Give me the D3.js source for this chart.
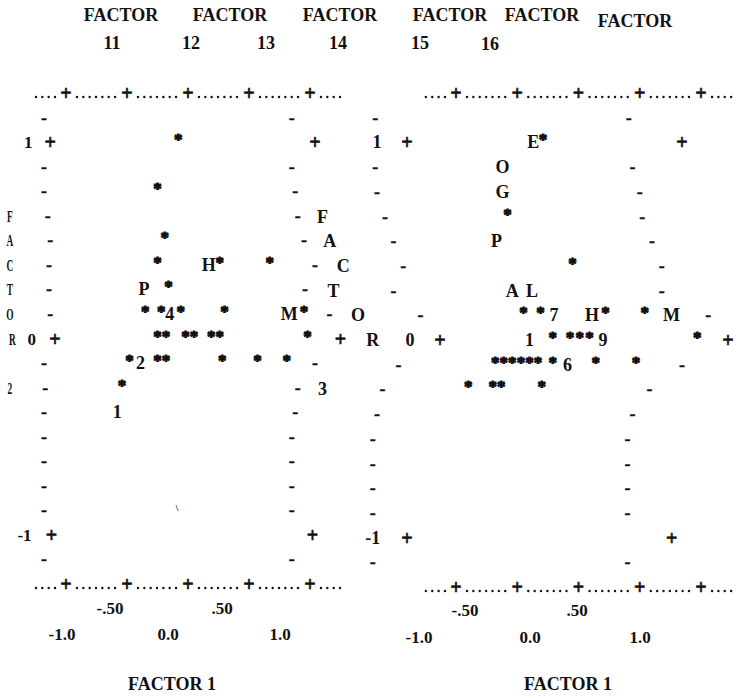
<!DOCTYPE html>
<html><head><meta charset="utf-8">
<script src="https://cdn.jsdelivr.net/npm/d3@7"></script>
<style>
body{margin:0;background:#fff}
svg text{font-family:"Liberation Serif","Times New Roman",serif;font-weight:bold;fill:#111}
</style>
</head><body>
<svg id="c" width="738" height="698"></svg>
<script>
// ---------- DATA ----------
const xTicks = [-1, -0.5, 0, 0.5, 1];
const xTickLabels = ["-1.0", "-.50", "0.0", ".50", "1.0"];
const rowValues = d3.range(9, -10, -1).map(k => k * 0.125); // 1.125 .. -1.125
const yTickValues = [1, 0, -1];
const yTickLabels = ["1", "0", "-1"];
const topWords = ["FACTOR", "FACTOR", "FACTOR", "FACTOR", "FACTOR", "FACTOR"];
const topNumbers = ["11", "12", "13", "14", "15", "16"];
const xTitle = "FACTOR 1";
const yTitleA = "FACTOR 2";
const yTitleB = "FACTOR 3";

// Panel A: Factor 1 (x) vs Factor 2 (y)
const starsA = [
  [-0.08, 1], [-0.25, 0.75], [-0.19, 0.5],
  [-0.25, 0.375], [0.26, 0.375], [0.67, 0.375],
  [-0.16, 0.25],
  [-0.35, 0.125], [-0.22, 0.125], [-0.06, 0.125], [0.30, 0.125], [0.95, 0.125],
  [-0.25, 0], [-0.18, 0], [-0.02, 0], [0.05, 0], [0.19, 0], [0.26, 0], [0.98, 0],
  [-0.48, -0.125], [-0.25, -0.125], [-0.18, -0.125], [0.28, -0.125], [0.57, -0.125], [0.81, -0.125],
  [-0.54, -0.25]
];
const labelsA = [
  [0.17, 0.375, "H"], [-0.36, 0.25, "P"], [-0.15, 0.125, "4"], [0.83, 0.125, "M"],
  [-0.39, -0.125, "2"], [-0.58, -0.375, "1"]
];
const strayA = [[-0.09, -0.85]];
const leftEdgeA = [-1.18, -1.13, -1.18, -1.18, -1.15, -1.13, -1.14, -1.14, -1.13, -1.09, -1.18, -1.17, -1.18, -1.18, -1.18, -1.18, -1.18, -1.12, -1.18];
const rightEdgeA = [0.85, 1.04, 0.85, 0.88, 0.90, 0.95, 1.04, 0.96, 1.16, 1.25, 1.04, 0.90, 0.88, 0.85, 0.85, 0.85, 0.85, 1.02, 0.85];
const yLabelXA = [-1.31, -1.28, -1.34];
const yTitleXA = [-1.46, -1.46, -1.46, -1.46, -1.46, -1.44, -1.46, -1.46];

// Panel B: Factor 1 (x) vs Factor 3 (y)
const starsB = [
  [-0.29, 1], [-0.58, 0.625], [-0.05, 0.375],
  [-0.45, 0.125], [-0.31, 0.125], [0.22, 0.125], [0.54, 0.125],
  [-0.21, 0], [-0.07, 0], [0.01, 0], [0.09, 0], [0.97, 0],
  [-0.68, -0.125], [-0.61, -0.125], [-0.54, -0.125], [-0.47, -0.125], [-0.40, -0.125], [-0.33, -0.125],
  [-0.21, -0.125], [0.14, -0.125], [0.47, -0.125],
  [-0.90, -0.25], [-0.70, -0.25], [-0.63, -0.25], [-0.30, -0.25]
];
const labelsB = [
  [-0.37, 1, "E"], [-0.62, 0.875, "O"], [-0.62, 0.75, "G"], [-0.67, 0.5, "P"],
  [-0.54, 0.25, "A"], [-0.38, 0.25, "L"], [-0.20, 0.125, "7"], [0.11, 0.125, "H"],
  [0.76, 0.125, "M"], [-0.40, 0, "1"], [0.20, 0, "9"], [-0.09, -0.125, "6"]
];
const leftEdgeB = [-1.66, -1.40, -1.66, -1.645, -1.58, -1.51, -1.43, -1.51, -1.29, -1.13, -1.47, -1.60, -1.645, -1.68, -1.68, -1.68, -1.68, -1.40, -1.68];
const rightEdgeB = [0.41, 0.845, 0.44, 0.50, 0.52, 0.60, 0.68, 0.68, 1.06, 1.22, 0.845, 0.58, 0.44, 0.40, 0.40, 0.40, 0.40, 0.76, 0.40];
const yLabelXB = [-1.645, -1.375, -1.68];
const yTitleXB = [-2.09, -2.03, -1.92, -2.00, -1.80, -1.68, -2.09, -2.09];

// ---------- LAYOUT ----------
const svg = d3.select("#c");
svg.append("rect").attr("width", 738).attr("height", 698).attr("fill", "#fff");

const topX = [121, 230, 340, 450, 542, 635], topY = [21, 21, 21, 21, 21, 27];
const numX = [112, 191, 266, 338, 420, 490], numY = [49, 49, 49, 49, 49, 50];
svg.selectAll("text.tw").data(topWords).join("text").attr("class", "tw")
  .attr("x", (d, i) => topX[i]).attr("y", (d, i) => topY[i])
  .attr("text-anchor", "middle").attr("font-size", 18).text(d => d);
svg.selectAll("text.tn").data(topNumbers).join("text").attr("class", "tn")
  .attr("x", (d, i) => numX[i]).attr("y", (d, i) => numY[i])
  .attr("text-anchor", "middle").attr("font-size", 18).text(d => d);

const panels = [
  {
    x: d3.scaleLinear().domain([-1, 1]).range([66, 310]),
    y: d3.scaleLinear().domain([-1.25, 1.25]).range([584, 93]),
    lab: d3.scaleLinear().domain(xTicks).range([62, 110, 168, 222, 280]),
    labY: [614, 640], titleX: 172,
    stars: starsA, labels: labelsA, stray: strayA,
    leftEdge: leftEdgeA, rightEdge: rightEdgeA, yLabelX: yLabelXA,
    yTitle: yTitleA, yTitleX: yTitleXA, thinTitle: true, boldY: false
  },
  {
    x: d3.scaleLinear().domain([-1, 1]).range([456, 701]),
    y: d3.scaleLinear().domain([-1.25, 1.25]).range([587, 93]),
    lab: d3.scaleLinear().domain(xTicks).range([419, 465, 530, 577, 640]),
    labY: [616, 643], titleX: 568,
    stars: starsB, labels: labelsB, stray: [],
    leftEdge: leftEdgeB, rightEdge: rightEdgeB, yLabelX: yLabelXB,
    yTitle: yTitleB, yTitleX: yTitleXB, thinTitle: false, boldY: true
  }
];

const BASE = 6; // baseline offset so glyphs centre on their row

panels.forEach(p => {
  const g = svg.append("g");
  const X = p.x, Y = p.y;

  // dotted horizontal axes with + at ticks
  [1.25, -1.25].forEach(v => {
    const ay = Y(v);
    const dots = [];
    xTicks.forEach((t, i) => {
      if (i < xTicks.length - 1) for (let k = 0; k < 7; k++) dots.push(t + 0.09 + k * 0.052);
    });
    for (let k = 0; k < 4; k++) { dots.push(-1 - 0.09 - k * 0.052); dots.push(1 + 0.09 + k * 0.052); }
    g.selectAll(null).data(dots).join("circle")
      .attr("cx", d => X(d)).attr("cy", ay + 4).attr("r", 1.2).attr("fill", "#111");
    g.selectAll(null).data(xTicks).join("text")
      .attr("x", d => X(d)).attr("y", ay + BASE + 1).attr("text-anchor", "middle")
      .attr("font-size", 20).attr("stroke", "#111").attr("stroke-width", 0.6).text("+");
  });

  // row frame marks (left and right edges)
  const isPlus = r => yTickValues.includes(r);
  [p.leftEdge, p.rightEdge].forEach(edge => {
    g.selectAll(null).data(rowValues).join("text")
      .attr("x", (r, i) => X(edge[i])).attr("y", r => Y(r) + BASE + (isPlus(r) ? 1 : 0))
      .attr("text-anchor", "middle").attr("font-size", r => isPlus(r) ? 20 : 18)
      .attr("stroke", "#111").attr("stroke-width", r => isPlus(r) ? 0.6 : 0.3)
      .text(r => isPlus(r) ? "+" : "-");
  });

  // y tick labels
  g.selectAll(null).data(yTickValues).join("text")
    .attr("x", (d, i) => X(p.yLabelX[i])).attr("y", d => Y(d) + BASE)
    .attr("text-anchor", "middle").attr("font-size", p.boldY ? 18 : 17)
    .attr("font-weight", p.boldY ? "bold" : "normal")
    .text((d, i) => yTickLabels[i]);

  // vertical axis title, one letter per row
  const chars = p.yTitle.split("");
  chars.forEach((c, i) => {
    if (c === " ") return;
    const cx = X(p.yTitleX[i]), cy = Y(0.625 - i * 0.125) + BASE;
    const t = g.append("text").attr("text-anchor", "middle").text(c);
    if (p.thinTitle) {
      t.attr("font-size", 17).attr("font-weight", "normal")
        .attr("transform", `translate(${cx},${cy}) scale(0.55,1)`);
    } else {
      t.attr("x", cx).attr("y", cy).attr("font-size", 18);
    }
  });

  // x tick labels (alternating rows)
  g.selectAll(null).data(xTicks).join("text")
    .attr("x", d => p.lab(d)).attr("y", (d, i) => p.labY[i % 2 === 1 ? 0 : 1])
    .attr("text-anchor", "middle").attr("font-size", 17)
    .text((d, i) => xTickLabels[i]);

  // x title
  g.append("text").attr("x", p.titleX).attr("y", 690).attr("text-anchor", "middle")
    .attr("font-size", 18).text(xTitle);

  // data points
  g.selectAll(null).data(p.stars).join("text")
    .attr("x", d => X(d[0])).attr("y", d => Y(d[1]) + BASE - 3)
    .attr("text-anchor", "middle").attr("font-size", 17)
    .attr("stroke", "#111").attr("stroke-width", 1).attr("stroke-linejoin", "round")
    .text("*");
  g.selectAll(null).data(p.labels).join("text")
    .attr("x", d => X(d[0])).attr("y", d => Y(d[1]) + BASE)
    .attr("text-anchor", "middle").attr("font-size", 18).text(d => d[2]);
  g.selectAll(null).data(p.stray).join("text")
    .attr("x", d => X(d[0])).attr("y", d => Y(d[1]) + BASE)
    .attr("text-anchor", "middle").attr("font-size", 9).text("\\");
});
</script>
</body></html>
